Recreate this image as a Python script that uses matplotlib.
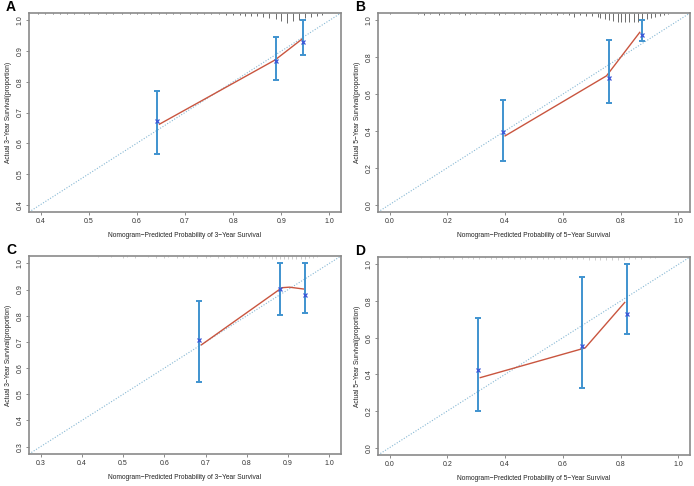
import matplotlib
matplotlib.use("Agg")
import matplotlib.pyplot as plt
import numpy as np

plt.rcParams["font.family"] = ["Liberation Sans", "DejaVu Sans"]

# ---- data ----
panels = ["A", "B", "C", "D"]
years = [3, 5, 3, 5]
axis_lo = [0.4, 0.0, 0.3, 0.0]

# bias-corrected estimates (x markers) with 95% CI
pred_A = [0.641, 0.888, 0.945]
obs_A = [0.673, 0.868, 0.931]
lo_A = [0.566, 0.806, 0.887]
hi_A = [0.769, 0.946, 1.0]

pred_B = [0.391, 0.759, 0.874]
obs_B = [0.395, 0.687, 0.920]
lo_B = [0.237, 0.553, 0.888]
hi_B = [0.569, 0.895, 1.0]

pred_C = [0.685, 0.881, 0.940]
obs_C = [0.709, 0.901, 0.878]
lo_C = [0.546, 0.804, 0.811]
hi_C = [0.856, 1.0, 1.0]

pred_D = [0.306, 0.666, 0.821]
obs_D = [0.423, 0.557, 0.729]
lo_D = [0.201, 0.324, 0.622]
hi_D = [0.709, 0.931, 1.0]

# observed calibration line (red)
line_x_A = [0.647, 0.887, 0.943]
line_y_A = [0.662, 0.871, 0.939]
line_x_B = [0.400, 0.751, 0.866]
line_y_B = [0.373, 0.699, 0.935]
line_x_C = [0.690, 0.885, 0.903, 0.937]
line_y_C = [0.689, 0.907, 0.909, 0.902]
line_x_D = [0.314, 0.677, 0.814]
line_y_D = [0.382, 0.544, 0.792]

# distribution of predicted probabilities (top spikes)
rug_x_A = [0.395, 0.41, 0.425, 0.44, 0.455, 0.47, 0.49, 0.50, 0.52, 0.535, 0.55,
           0.57, 0.585, 0.60, 0.615, 0.63, 0.645, 0.66, 0.675, 0.69, 0.71, 0.725,
           0.74, 0.755, 0.77, 0.785, 0.80, 0.815, 0.825, 0.838, 0.85, 0.862,
           0.875, 0.888, 0.90, 0.912, 0.925, 0.937, 0.95, 0.962, 0.975, 0.985]
rug_n_A = [1, 1, 1, 1, 1, 1, 1, 1, 1, 1, 1, 1, 1, 1, 1, 1, 1, 1, 1, 1, 1, 1,
           1, 1, 1, 2, 2, 2, 3, 3, 3, 4, 5, 6, 8, 11, 8, 7, 5, 4, 3, 2]
rug_x_B = [0.0, 0.10, 0.12, 0.14, 0.17, 0.19, 0.21, 0.24, 0.26, 0.28, 0.30,
           0.33, 0.36, 0.38, 0.40, 0.43, 0.45, 0.47, 0.50, 0.52, 0.54, 0.56,
           0.58, 0.60, 0.62, 0.64, 0.66, 0.68, 0.70, 0.72, 0.73, 0.745, 0.76,
           0.775, 0.79, 0.80, 0.815, 0.83, 0.845, 0.86, 0.875, 0.89, 0.905,
           0.92, 0.935, 0.95, 0.965]
rug_n_B = [1, 1, 2, 1, 2, 1, 1, 1, 2, 1, 1, 1, 1, 2, 1, 1, 1, 1, 1, 2, 1, 1,
           2, 1, 2, 4, 2, 3, 3, 4, 5, 6, 7, 8, 9, 10, 10, 10, 9, 10, 8, 6, 5,
           4, 3, 2, 1]
rug_x_C = [0.44, 0.47, 0.50, 0.51, 0.53, 0.56, 0.58, 0.60, 0.61, 0.63, 0.645,
           0.66, 0.68, 0.70, 0.71, 0.73, 0.745, 0.76, 0.775, 0.79, 0.80, 0.815,
           0.83, 0.845, 0.86, 0.87, 0.88, 0.89, 0.90, 0.91, 0.92, 0.93, 0.94,
           0.95, 0.96, 0.97]
rug_n_C = [1, 1, 2, 1, 2, 1, 2, 2, 1, 2, 2, 1, 2, 2, 1, 2, 2, 1, 2, 2, 2, 2,
           2, 2, 3, 3, 3, 3, 3, 3, 3, 3, 3, 2, 2, 1]
rug_x_D = [0.06, 0.11, 0.14, 0.17, 0.19, 0.22, 0.25, 0.27, 0.29, 0.31, 0.33,
           0.35, 0.37, 0.39, 0.41, 0.43, 0.45, 0.47, 0.49, 0.51, 0.53, 0.55,
           0.57, 0.59, 0.61, 0.63, 0.65, 0.67, 0.69, 0.71, 0.73, 0.75, 0.77,
           0.79, 0.81, 0.83, 0.85, 0.87, 0.90, 0.92]
rug_n_D = [1, 1, 1, 2, 1, 2, 2, 1, 2, 2, 1, 2, 2, 2, 1, 2, 2, 2, 2, 2, 2, 2,
           2, 2, 2, 2, 2, 2, 3, 3, 3, 3, 3, 3, 3, 2, 2, 2, 1, 1]

est = [(pred_A, obs_A, lo_A, hi_A), (pred_B, obs_B, lo_B, hi_B),
       (pred_C, obs_C, lo_C, hi_C), (pred_D, obs_D, lo_D, hi_D)]
lines = [(line_x_A, line_y_A), (line_x_B, line_y_B),
         (line_x_C, line_y_C), (line_x_D, line_y_D)]
rugs = [(rug_x_A, rug_n_A), (rug_x_B, rug_n_B),
        (rug_x_C, rug_n_C), (rug_x_D, rug_n_D)]
rug_colors = ["#555555", "#555555", "#c4c4c4", "#c4c4c4"]

W, H = 694, 486
# axes boxes in pixels: left, right, top, bottom
boxes = [(29, 341, 13, 212), (378, 690, 13, 212),
         (29, 341, 256, 454), (378, 690, 257, 455)]

fig = plt.figure(figsize=(W / 100, H / 100), dpi=100)

for i, name in enumerate(panels):
    l, r, t, b = boxes[i]
    ax = fig.add_axes([l / W, 1 - b / H, (r - l) / W, (b - t) / H])
    lo = axis_lo[i]
    pad = (1 - lo) * 0.04
    ax.set_xlim(lo - pad, 1 + pad)
    ax.set_ylim(lo - pad, 1 + pad)

    # ideal line
    ax.plot([lo - pad, 1 + pad], [lo - pad, 1 + pad], ls=(0, (1, 1.5)),
            color="#86b8d4", lw=0.8, zorder=1)

    # spikes hanging from the top frame
    rx, rn = rugs[i]
    top = 1 + pad
    unit = (1 - lo + 2 * pad) * 0.0045
    ax.vlines(rx, top - np.array(rn) * unit - unit * 0.6, top,
              color=rug_colors[i], lw=0.6, zorder=2)

    lx, ly = lines[i]
    ax.plot(lx, ly, color="#c9553f", lw=1.0, zorder=3)

    px, ob, cl, ch = est[i]
    ob = np.array(ob)
    ax.errorbar(px, ob, yerr=[ob - np.array(cl), np.array(ch) - ob], fmt="none",
                ecolor="#3f93cf", elinewidth=1.4, capsize=2.5, capthick=1.4,
                zorder=4)
    ax.plot(px, ob, "x", color="#3a55d8", ms=2.8, mew=0.9, zorder=5)

    ticks = np.round(np.arange(lo, 1.0001, 0.1 if lo > 0 else 0.2), 1)
    ax.set_xticks(ticks)
    ax.set_yticks(ticks)
    ax.set_xticklabels([f"{v:.1f}" for v in ticks])
    ax.set_yticklabels([f"{v:.1f}" for v in ticks], rotation=90, va="center")
    ax.tick_params(direction="out", length=2.5, width=0.6, color="#777777",
                   labelsize=5, labelcolor="#333333", pad=1.5)
    for s in ax.spines.values():
        s.set_color("#8a8a8a")
        s.set_linewidth(1.2)

    ax.set_xlabel(f"Nomogram\u2212Predicted Probability of {years[i]}\u2212Year Survival",
                  fontsize=4.8, color="#222222", labelpad=5)
    ax.set_ylabel(f"Actual {years[i]}\u2212Year Survival(proportion)",
                  fontsize=4.8, color="#222222", labelpad=3)

    fig.text((l - 23) / W, 1 - (t - 6) / H, name, fontsize=10,
             fontweight="bold", ha="left", va="center")

fig.savefig("out.png", dpi=100)
